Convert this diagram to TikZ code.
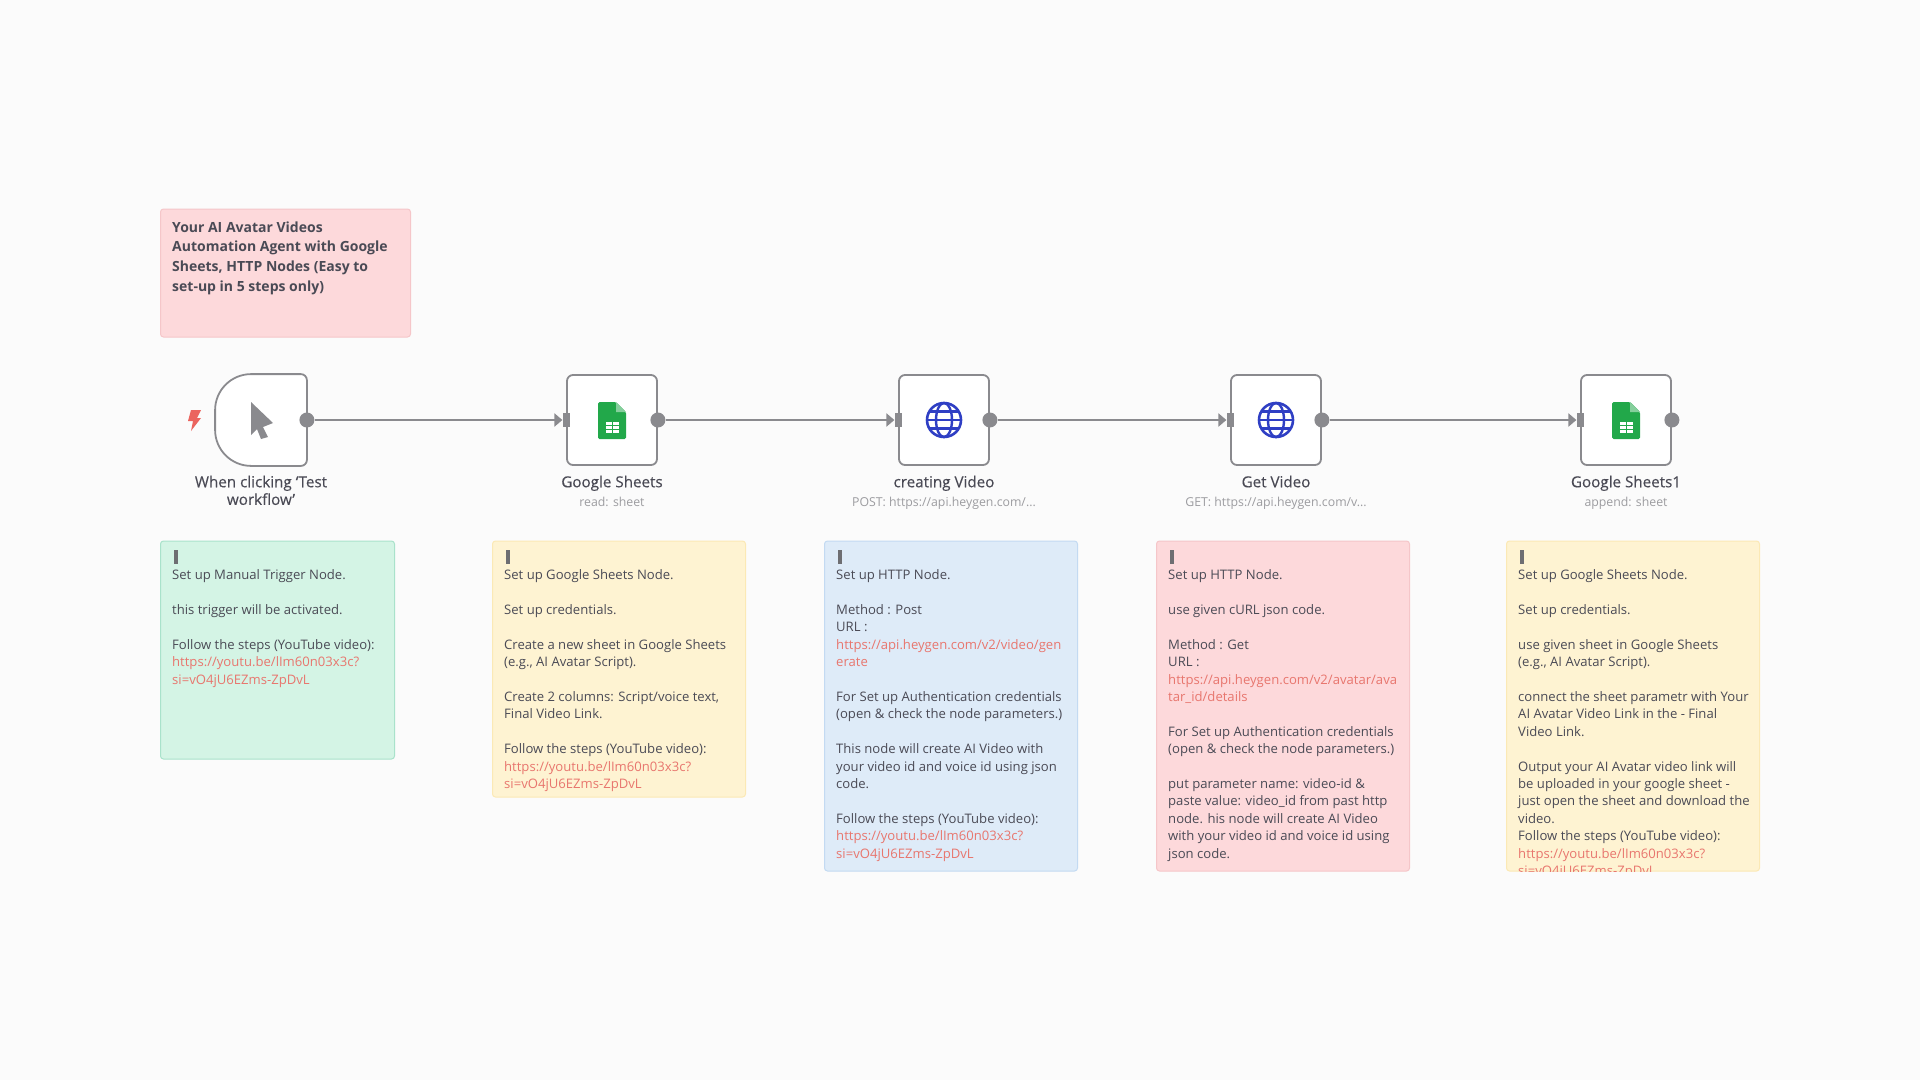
\documentclass[tikz,border=0pt]{standalone}
\usepackage{fontspec}
\setmainfont{Open Sans}
\newfontfamily\labelfont[FakeBold=0.25]{Open Sans}
\usetikzlibrary{arrows.meta}

\definecolor{canvas}{HTML}{FBFBFB}
\definecolor{inkdark}{HTML}{4A4A55}
\definecolor{inkgray}{HTML}{9C9CA0}
\definecolor{wire}{HTML}{8A8A8E}
\definecolor{linkred}{HTML}{E8766E}
\definecolor{sheetgreen}{HTML}{22A84A}
\definecolor{globeblue}{HTML}{2F3FC4}

\tikzset{
   stepbox/.style={draw=wire, fill=white, line width=1.8pt, rounded corners=6pt,
      minimum width=90pt, minimum height=90pt, inner sep=0pt},
   outdot/.style={circle, fill=wire, minimum size=15pt, inner sep=0pt},
   inport/.style={rectangle, fill=wire, minimum width=7pt, minimum height=14pt, inner sep=0pt},
   link/.style={draw=wire, line width=2pt, -{Triangle[length=8pt,width=13pt]}},
   steplabel/.style={font=\fontsize{15.2}{17.6}\selectfont\labelfont, text=inkdark, align=center, inner sep=0pt},
   stepsub/.style={font=\fontsize{12.3}{14}\selectfont, text=inkgray, inner sep=0pt},
   note/.style={anchor=north west, rounded corners=3pt, line width=1pt, inner sep=0pt},
   notepink/.style={note, fill=pinkfill, draw=pinkline},
   notegreen/.style={note, fill=greenfill, draw=greenline},
   noteyellow/.style={note, fill=yellowfill, draw=yellowline},
   noteblue/.style={note, fill=bluefill, draw=blueline},
   notetext/.style={anchor=north west, inner sep=0pt, align=left, text=inkdark,
      font=\fontsize{13.1}{17.4}\selectfont},
   grip/.style={fill=wire!80!black, minimum width=4pt, minimum height=14pt, inner sep=0pt},
   pics/sheeticon/.style={code={
      \fill[sheetgreen, rounded corners=1.5pt] (-14,-18) -- (4,-18) -- (14,-8) -- (14,19) -- (-14,19) -- cycle;
      \fill[sheetgreen!55!white] (4,-18) -- (14,-8) -- (4,-8) -- cycle;
      \fill[white] (-6.5,2) rectangle (6.5,13);
      \draw[sheetgreen, line width=1pt] (-6.5,5.7) -- (6.5,5.7) (-6.5,9.4) -- (6.5,9.4) (0,2) -- (0,13);
   }},
   pics/globeicon/.style={code={
      \draw[globeblue, line width=2.6pt] (0,0) circle (17);
      \draw[globeblue, line width=2.4pt] (0,0) ellipse (8 and 17);
      \draw[globeblue, line width=2.4pt] (-17,0) -- (17,0) (-14.5,-8.5) -- (14.5,-8.5) (-14.5,8.5) -- (14.5,8.5);
   }},
}
\definecolor{pinkfill}{HTML}{FDD9DB}
\definecolor{pinkline}{HTML}{F5C6C9}
\definecolor{greenfill}{HTML}{D4F4E5}
\definecolor{greenline}{HTML}{A9E2CB}
\definecolor{yellowfill}{HTML}{FEF3D2}
\definecolor{yellowline}{HTML}{FBE9B5}
\definecolor{bluefill}{HTML}{DEEBF8}
\definecolor{blueline}{HTML}{C3DAF2}

\newcommand{\urlpart}[1]{\textcolor{linkred}{#1}}
\newcommand{\ytlink}{\urlpart{https://youtu.be/lIm60n03x3c?}\\\urlpart{si=vO4jU6EZms-ZpDvL}}
\newcommand{\gap}{\\[17.4pt]}

\begin{document}
\begin{tikzpicture}[x=1pt,y=-1pt]
   \useasboundingbox[fill=canvas] (0,0) rectangle (1920,1080);

   % title
   \node[notepink, minimum width=250pt, minimum height=128pt] (title) at (160,208.5) {};
   \node[notetext, font=\fontsize{14}{19.6}\selectfont\bfseries] (titletext) at (172,221.5)
      {Your AI Avatar Videos\\Automation Agent with Google\\Sheets, HTTP Nodes (Easy to\\set-up in 5 steps only)};

   % workflow nodes
   \node[stepbox, draw=none, fill=none] (trigger) at (261,420) {};
   \draw[draw=wire, fill=white, line width=1.8pt, rounded corners=6pt] (trigger.north)
      -- (trigger.north east) -- (trigger.south east) -- (trigger.south)
      [rounded corners=36pt] -- (trigger.south west) -- (trigger.north west) [rounded corners=6pt] -- cycle;
   \node[stepbox] (sheets) at (612,420) {};
   \node[stepbox] (creating) at (944,420) {};
   \node[stepbox] (getvideo) at (1276,420) {};
   \node[stepbox] (sheetsone) at (1626,420) {};

   % icons
   \fill[wire] (251,402) -- (273,423) -- (263,427) -- (268,437) -- (261,439) -- (257,429) -- (251,435) -- cycle;
   \fill[linkred!85!red] (191,410) -- (201,410) -- (197,418) -- (201,418) -- (191,431) -- (193,421) -- (188,421) -- cycle;
   \pic at (sheets) {sheeticon};
   \pic at (creating) {globeicon};
   \pic at (getvideo) {globeicon};
   \pic at (sheetsone) {sheeticon};

   % ports
   \node[outdot] (triggerout) at (trigger.east) {};
   \node[outdot] (sheetsout) at (sheets.east) {};
   \node[outdot] (creatingout) at (creating.east) {};
   \node[outdot] (getvideoout) at (getvideo.east) {};
   \node[outdot] (sheetsoneout) at (sheetsone.east) {};
   \node[inport] (sheetsin) at (sheets.west) {};
   \node[inport] (creatingin) at (creating.west) {};
   \node[inport] (getvideoin) at (getvideo.west) {};
   \node[inport] (sheetsonein) at (sheetsone.west) {};

   \draw[link] (triggerout) -- (sheetsin);
   \draw[link] (sheetsout) -- (creatingin);
   \draw[link] (creatingout) -- (getvideoin);
   \draw[link] (getvideoout) -- (sheetsonein);

   % labels
   \node[steplabel, anchor=north] (triggerlabel) at (261,475.5) {When clicking ‘Test\\workflow’};
   \node[steplabel, anchor=north] (sheetslabel) at (612,475.5) {Google Sheets};
   \node[steplabel, anchor=north] (creatinglabel) at (944,475.5) {creating Video};
   \node[steplabel, anchor=north] (getvideolabel) at (1276,475.5) {Get Video};
   \node[steplabel, anchor=north] (sheetsonelabel) at (1626,475.5) {Google Sheets1};
   \node[stepsub, anchor=north] (sheetssub) at (612,496.5) {read: sheet};
   \node[stepsub, anchor=north] (creatingsub) at (944,496.5) {POST: https://api.heygen.com/...};
   \node[stepsub, anchor=north] (getvideosub) at (1276,496.5) {GET: https://api.heygen.com/v...};
   \node[stepsub, anchor=north] (sheetsonesub) at (1626,496.5) {append: sheet};

   % notes
   \node[notegreen, minimum width=234pt, minimum height=218pt] (notetrigger) at (160,540.5) {};
   \node[noteyellow, minimum width=253pt, minimum height=256pt] (notesheets) at (492,540.5) {};
   \node[noteblue, minimum width=253pt, minimum height=330pt] (notecreating) at (824,540.5) {};
   \node[notepink, minimum width=253pt, minimum height=330pt] (notegetvideo) at (1156,540.5) {};
   \node[noteyellow, minimum width=253pt, minimum height=330pt] (notesheetsone) at (1506,540.5) {};

   \node[grip] (griptrigger) at (176,557) {};
   \node[grip] (gripsheets) at (508,557) {};
   \node[grip] (gripcreating) at (840,557) {};
   \node[grip] (gripgetvideo) at (1172,557) {};
   \node[grip] (gripsheetsone) at (1522,557) {};

   \node[notetext] (texttrigger) at (172,569.5) {Set up Manual Trigger Node.\gap
      this trigger will be activated.\gap
      Follow the steps (YouTube video):\\\ytlink};

   \node[notetext] (textsheets) at (504,569.5) {Set up Google Sheets Node.\gap
      Set up credentials.\gap
      Create a new sheet in Google Sheets\\(e.g., AI Avatar Script).\gap
      Create 2 columns: Script/voice text,\\Final Video Link.\gap
      Follow the steps (YouTube video):\\\ytlink};

   \node[notetext] (textcreating) at (836,569.5) {Set up HTTP Node.\gap
      Method : Post\\URL :\\\urlpart{https://api.heygen.com/v2/video/gen}\\\urlpart{erate}\gap
      For Set up Authentication credentials\\(open \& check the node parameters.)\gap
      This node will create AI Video with\\your video id and voice id using json\\code.\gap
      Follow the steps (YouTube video):\\\ytlink};

   \node[notetext] (textgetvideo) at (1168,569.5) {Set up HTTP Node.\gap
      use given cURL json code.\gap
      Method : Get\\URL :\\\urlpart{https://api.heygen.com/v2/avatar/ava}\\\urlpart{tar\_id/details}\gap
      For Set up Authentication credentials\\(open \& check the node parameters.)\gap
      put parameter name: video-id \&\\paste value: video\_id from past http\\node. his node will create AI Video\\with your video id and voice id using\\json code.};

   \begin{scope}
      \clip[rounded corners=3pt] (notesheetsone.north west) rectangle (notesheetsone.south east);
      \node[notetext] (textsheetsone) at (1518,569.5) {Set up Google Sheets Node.\gap
         Set up credentials.\gap
         use given sheet in Google Sheets\\(e.g., AI Avatar Script).\gap
         connect the sheet parametr with Your\\AI Avatar Video Link in the - Final\\Video Link.\gap
         Output your AI Avatar video link will\\be uploaded in your google sheet -\\just open the sheet and download the\\video.\\Follow the steps (YouTube video):\\\ytlink};
   \end{scope}
\end{tikzpicture}
\end{document}
